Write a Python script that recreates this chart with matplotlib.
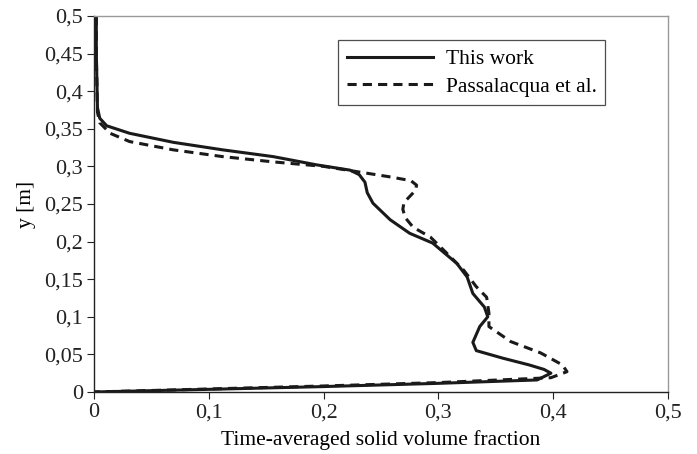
import matplotlib
matplotlib.use('Agg')
import matplotlib.pyplot as plt

# Solid volume fraction profiles (x = fraction, y = height in m)
this_work_x = [0.002, 0.002, 0.003, 0.005, 0.011, 0.031, 0.069, 0.112, 0.156, 0.194,
               0.223, 0.231, 0.236, 0.238, 0.243, 0.258, 0.275, 0.295, 0.316, 0.325, 0.330,
               0.340, 0.343, 0.336, 0.330, 0.333, 0.356, 0.379, 0.392, 0.398, 0.386,
               0.300, 0.200, 0.100, 0.0]
this_work_y = [0.5, 0.45, 0.378, 0.364, 0.354, 0.344, 0.332, 0.322, 0.313, 0.302,
               0.295, 0.289, 0.279, 0.265, 0.251, 0.229, 0.211, 0.198, 0.171, 0.153, 0.131,
               0.113, 0.100, 0.087, 0.066, 0.055, 0.045, 0.036, 0.030, 0.025, 0.016,
               0.0115, 0.0072, 0.0035, 0.0]

passalacqua_x = [0.002, 0.002, 0.003, 0.005, 0.014, 0.031, 0.069, 0.112, 0.156, 0.200,
                 0.229, 0.258, 0.276, 0.281, 0.280, 0.275, 0.270, 0.269, 0.271, 0.278,
                 0.293, 0.307, 0.322, 0.333, 0.342, 0.344, 0.344, 0.363, 0.389, 0.408,
                 0.412, 0.398, 0.300, 0.200, 0.100, 0.0]
passalacqua_y = [0.5, 0.45, 0.372, 0.358, 0.344, 0.333, 0.322, 0.313, 0.306, 0.300,
                 0.293, 0.286, 0.281, 0.275, 0.268, 0.260, 0.252, 0.243, 0.232, 0.219,
                 0.206, 0.185, 0.162, 0.140, 0.126, 0.105, 0.087, 0.067, 0.052, 0.036,
                 0.027, 0.019, 0.0125, 0.008, 0.004, 0.0]

x_ticks = [0, 0.1, 0.2, 0.3, 0.4, 0.5]
x_tick_labels = ['0', '0,1', '0,2', '0,3', '0,4', '0,5']
y_ticks = [0, 0.05, 0.1, 0.15, 0.2, 0.25, 0.3, 0.35, 0.4, 0.45, 0.5]
y_tick_labels = ['0', '0,05', '0,1', '0,15', '0,2', '0,25', '0,3', '0,35', '0,4', '0,45', '0,5']

plt.rcParams['font.family'] = ['Liberation Serif', 'DejaVu Serif']

fig = plt.figure(figsize=(6.97, 4.54), dpi=100)
ax = fig.add_axes([0.1349, 0.1366, 0.8235, 0.8282])

ax.plot(this_work_x, this_work_y, color='#1a1a1a', linewidth=2.2, label='This work')
ax.plot(passalacqua_x, passalacqua_y, color='#1a1a1a', linewidth=2.2,
        linestyle=(0, (3.0, 2.0)), label='Passalacqua et al.')

ax.set_xlim(0, 0.5)
ax.set_ylim(0, 0.5)
ax.set_xticks(x_ticks)
ax.set_xticklabels(x_tick_labels)
ax.set_yticks(y_ticks)
ax.set_yticklabels(y_tick_labels)
ax.tick_params(direction='out', length=5, width=0.8, labelsize=16, colors='#222222')
ax.tick_params(axis='x', pad=3)
ax.tick_params(axis='y', pad=3)

for side in ['top', 'right']:
    ax.spines[side].set_color('#999999')
    ax.spines[side].set_linewidth(1.0)
for side in ['left', 'bottom']:
    ax.spines[side].set_color('#222222')
    ax.spines[side].set_linewidth(1.0)

ax.set_xlabel('Time-averaged solid volume fraction', fontsize=15.5, labelpad=6)
ax.set_ylabel('y [m]', fontsize=15.5, labelpad=6)

leg = ax.legend(loc='upper left', bbox_to_anchor=(0.425, 0.935), fontsize=15.5,
                frameon=True, fancybox=False, handlelength=4.0, handletextpad=0.6,
                borderpad=0.4, labelspacing=0.35, borderaxespad=0)
leg.get_frame().set_edgecolor('#222222')
leg.get_frame().set_linewidth(0.9)

fig.savefig('out.png', dpi=100)
